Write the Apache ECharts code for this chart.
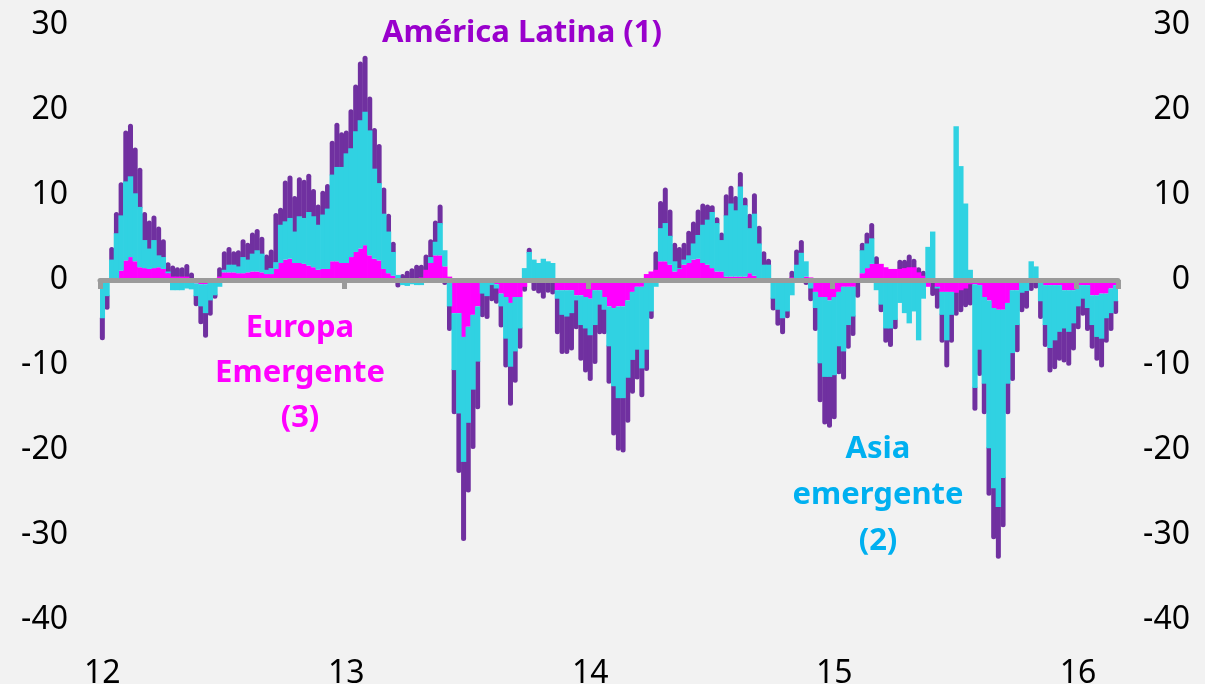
<!DOCTYPE html>
<html>
<head>
<meta charset="utf-8">
<script src="https://cdn.jsdelivr.net/npm/echarts@6/dist/echarts.min.js"></script>
<style>
    html, body {margin: 0; padding: 0; background: #F2F2F2;}
    #flows {width: 1205px; height: 684px;}
</style>
</head>
<body>
<div id="flows"></div>
<script>
// semanas desde ene-2012 hasta mar-2016
let yearLabels = ['12', '13', '14', '15', '16'];
let weeksPerYear = 52;

// Europa emergente (3)
let europa = [
    -0.2, -0.2, 0.1, 0.2, 1.1, 2.3, 2.7, 2.2, 1.5, 1.4,
    1.3, 1.4, 1.5, 1.3, 0.8, 0.4, 0.4, 0.4, 0.4, 0.1,
    -0.4, -0.5, -0.5, -0.3, -0.2, 0.4, 0.9, 0.9, 0.9, 0.8,
    0.8, 0.9, 1.0, 1.0, 0.9, 0.7, 0.7, 1.3, 2.0, 2.4,
    2.5, 2.0, 2.0, 1.9, 1.7, 1.5, 1.2, 1.3, 1.3, 2.2,
    2.2, 2.0, 2.0, 2.7, 3.3, 3.7, 4.1, 2.9, 2.5, 2.3,
    1.3, 0.8, 0.5, 0.2, 0.1, 0.1, 0.1, 0.2, 0.3, 1.2,
    2.0, 2.9, 2.9, 1.6, 0.4, -3.9, -3.9, -6.7, -5.5, -4.1,
    -3.1, -0.3, -0.3, -0.3, -0.5, -1.6, -2.0, -2.7, -2.0, -2.0,
    -0.8, 0, 0, -0.1, -0.3, -0.2, -0.2, -1.2, -1.2, -1.2,
    -1.2, -1.8, -1.8, -2.0, -2.2, -1.2, -1.2, -2.0, -3.1, -3.3,
    -3.1, -3.1, -2.4, -1.4, -0.8, -0.8, 0.7, 1.0, 1.2, 2.2,
    2.2, 1.8, 1.0, 1.3, 1.8, 2.0, 2.4, 2.5, 2.0, 1.8,
    1.4, 1.0, 1.0, 0.4, 0.4, 0.4, 0.4, 0.4, 0.8, 0.5,
    0.1, 0, 0, -0.1, -0.1, -0.1, 0, 0.3, 0.2, 0.2,
    0.4, 0.3, -1.4, -2.0, -2.0, -2.4, -2.0, -1.4, -0.8, -0.8,
    -0.8, -0.1, 0.8, 1.4, 1.9, 1.9, 1.9, 1.5, 1.3, 1.3,
    1.3, 1.4, 1.5, 1.5, 0.9, 0.5, -0.8, -0.3, -0.8, -1.4,
    -1.4, -1.4, -1.5, -1.2, -1.0, -0.5, -0.5, -0.6, -2.0, -2.4,
    -3.3, -3.5, -3.5, -2.7, -1.2, -1.2, -0.3, -0.3, -0.3, -0.2,
    -0.2, -0.6, -0.6, -0.6, -0.6, -1.2, -1.2, -1.2, -0.6, -0.6,
    -0.6, -1.8, -1.8, -1.6, -1.6, -1.0, -0.6
];

// Asia emergente (2)
let asia = [
    -4.3, -1.7, 2.3, 5.3, 6.5, 9.3, 9.5, 8.0, 7.1, 3.3,
    2.4, 3.3, 1.4, 1.4, 0.2, -1.2, -1.2, -1.2, -1.0, -1.1,
    -1.5, -2.6, -3.4, -2.1, -1.6, -0.8, 0.3, 0.9, 0.9, 0.8,
    1.9, 1.5, 2.1, 2.5, 2.2, 0.5, 0.7, 0.8, 4.5, 4.5,
    4.8, 3.7, 5.5, 5.4, 6.3, 6.0, 5.3, 6.4, 7.1, 10.2,
    11.1, 11.3, 12.9, 12.8, 14.2, 15.1, 15.7, 14.7, 10.6, 9.1,
    6.5, 4.9, 2.8, 0.4, -0.6, -0.7, -0.5, -0.6, -0.6, 0.0,
    0.7, 1.6, 3.8, 1.9, -3.1, -6.7, -11.8, -14.7, -11.3, -8.8,
    -6.5, -1.3, -1.6, -0.3, -0.5, -1.5, -4.9, -7.5, -6.4, -3.7,
    1.4, 3.3, 2.4, 2.0, 2.5, 2.2, 2.0, -1.0, -2.9, -3.1,
    -2.7, -0.6, -3.5, -3.7, -4.3, -4.1, -1.7, -1.5, -4.7, -9.2,
    -10.8, -10.8, -9.1, -8.0, -7.4, -9.6, -8.2, -3.7, -0.8, 3.9,
    4.5, 3.4, 1.2, 0.1, 0.6, 0.9, 1.9, 2.8, 4.5, 5.3,
    6.6, 5.7, 3.7, 7.2, 8.6, 7.8, 10.6, 8.4, 5.3, 7.3,
    4.2, 1.8, 1.8, -2.1, -3.4, -4.4, -3.7, -1.8, 1.6, 3.0,
    1.8, -1.0, -1.9, -7.8, -9.4, -9.0, -9.2, -6.4, -7.6, -4.5,
    -3.5, -0.2, 2.7, 2.9, 3.0, -1.2, -2.9, -5.7, -5.7, -4.7,
    -2.7, -3.9, -5.1, -3.7, -7.1, -2.2, 3.9, 5.7, -0.2, -2.7,
    -5.7, -2.7, 18.1, 13.4, 9.0, 1.2, -12.2, -7.6, -10.2, -17.4,
    -21.2, -23.2, -19.8, -9.5, -7.4, -4.1, -1.2, -1.0, 2.2, 1.6,
    -2.3, -4.7, -7.4, -6.5, -5.5, -4.5, -4.9, -3.9, -2.5, -1.6,
    -2.7, -3.5, -4.9, -5.3, -2.9, -2.9, -1.9
];

// América Latina (1)
let latam = [
    -2.3, -1.3, 1.2, 2.2, 3.6, 5.7, 5.9, 5.1, 4.3, 3.0,
    3.0, 2.6, 3.1, 1.8, 0.8, 1.0, 0.8, 0.8, 1.2, 0.5,
    -0.9, -1.8, -2.6, -1.5, -0.1, 0.8, 1.9, 1.8, 1.3, 1.6,
    1.8, 1.7, 2.2, 2.2, 1.7, 1.5, 1.9, 5.5, 1.7, 4.5,
    4.7, 3.9, 4.3, 4.2, 4.2, 2.9, 2.1, 2.5, 2.6, 3.7,
    4.9, 3.8, 2.4, 4.3, 5.2, 6.6, 6.3, 3.7, 4.5, 4.3,
    2.8, 1.8, 0.9, -0.6, 0.3, 0.7, 1.0, 1.3, 1.2, 1.5,
    1.8, 2.2, 1.9, -0.3, -2.6, -4.9, -6.7, -9.0, -7.9, -6.7,
    -5.3, -2.5, -2.4, -1.6, -1.5, -2.2, -3.1, -4.3, -3.4, -2.1,
    -0.3, 0.2, -1.0, -1.2, -1.6, -1.0, -1.2, -3.9, -4.3, -4.1,
    -4.1, -3.1, -3.9, -4.9, -5.1, -4.3, -3.2, -2.6, -4.1, -5.5,
    -5.9, -6.1, -5.0, -3.7, -3.2, -3.1, -2.2, -0.6, 1.9, 2.9,
    3.9, 2.8, 1.9, 2.2, 1.7, 2.6, 2.3, 2.7, 2.2, 1.5,
    0.5, 0.4, 0.6, 2.2, 1.8, 1.4, 1.4, 0.6, 1.4, 2.1,
    1.8, 1.3, 0.4, -1.1, -1.6, -1.6, -0.5, 0.5, 1.5, 1.2,
    -0.3, -1.2, -2.4, -4.3, -5.3, -5.7, -4.9, -3.0, -3.0, -2.5,
    -2.0, -1.5, 0.6, 1.0, 1.5, 0.6, -0.6, -1.4, -1.9, -0.8,
    0.8, 0.7, 1.2, 0.7, 0.3, 0.3, 0, -1.3, -2.1, -3.0,
    -2.9, -3.0, -2.4, -2.3, -1.9, -2.2, -2.4, -2.8, -3.3, -5.3,
    -5.7, -5.8, -5.5, -3.3, -3.0, -2.9, -2.0, -1.8, -0.7, -0.5,
    -1.8, -2.3, -2.6, -3.1, -3.1, -3.7, -3.7, -2.9, -2.4, -1.7,
    -2.4, -2.5, -2.5, -3.1, -2.6, -1.8, -1.2
];

let weeks = [];
let start = new Date(2012, 0, 6);
for (let i = 0; i < europa.length; i++) {
    let d = new Date(start.getTime() + i * 7 * 86400000);
    weeks.push(d.getFullYear() + '-' + (d.getMonth() + 1) + '-' + d.getDate());
}

// el tramo de América Latina se apila sobre los otros dos del mismo signo
let latamData = latam.map((v, i) => {
    let e = europa[i], a = asia[i];
    let base = v >= 0 ? Math.max(e, 0) + Math.max(a, 0) : Math.min(e, 0) + Math.min(a, 0);
    return [i, v, base];
});

let color = {
    europa: '#FF00FF',
    asia: '#30D2E2',
    latam: '#7030A0',
    axis: '#9B9B9B'
};

let isYearStart = (index) => index % weeksPerYear === 0;

let yLabel = {
    fontSize: 32,
    fontFamily: 'Noto Sans',
    color: '#000000'
};

let option = {
    backgroundColor: '#F2F2F2',
    animation: false,
    grid: {
        left: 100,
        right: 87,
        top: 25,
        bottom: 64,
        containLabel: false,
        outerBoundsMode: 'none'
    },
    xAxis: [
        {
            type: 'category',
            data: weeks,
            position: 'bottom',
            axisLine: {show: false, onZero: false},
            axisTick: {show: false},
            splitLine: {show: false},
            axisLabel: {
                interval: isYearStart,
                formatter: (value, index) => yearLabels[Math.floor(index / weeksPerYear)],
                margin: 38,
                fontSize: 32,
                fontFamily: 'Noto Sans',
                color: '#000000'
            }
        },
        {
            type: 'category',
            data: weeks,
            position: 'top',
            z: 10,
            axisLine: {
                onZero: true,
                lineStyle: {color: color.axis, width: 5}
            },
            axisTick: {
                show: true,
                inside: true,
                length: 9,
                interval: isYearStart,
                lineStyle: {color: color.axis, width: 5}
            },
            axisLabel: {show: false},
            splitLine: {show: false}
        }
    ],
    yAxis: [
        {
            type: 'value',
            min: -40,
            max: 30,
            interval: 10,
            axisLine: {show: false},
            axisTick: {show: false},
            splitLine: {show: false},
            axisLabel: Object.assign({margin: 32}, yLabel)
        },
        {
            type: 'value',
            position: 'right',
            min: -40,
            max: 30,
            interval: 10,
            axisLine: {show: false},
            axisTick: {show: false},
            splitLine: {show: false},
            axisLabel: Object.assign({margin: 72, align: 'right'}, yLabel)
        }
    ],
    series: [
        {
            name: 'Europa Emergente (3)',
            type: 'bar',
            stack: 'flujos',
            barWidth: 5.4,
            data: europa,
            itemStyle: {color: color.europa}
        },
        {
            name: 'Asia emergente (2)',
            type: 'bar',
            stack: 'flujos',
            barWidth: 5.4,
            data: asia,
            itemStyle: {color: color.asia}
        },
        {
            name: 'América Latina (1)',
            type: 'custom',
            data: latamData,
            encode: {x: 0, y: 1},
            renderItem: (params, api) => {
                let v = api.value(1);
                if (v === 0) {
                    return null;
                }
                let base = api.value(2);
                let p0 = api.coord([api.value(0), base]);
                let p1 = api.coord([api.value(0), base + v]);
                return {
                    type: 'line',
                    shape: {x1: p0[0], y1: p0[1], x2: p1[0], y2: p1[1]},
                    style: {stroke: color.latam, lineWidth: 5, lineCap: 'round'}
                };
            }
        }
    ],
    graphic: [
        {
            type: 'text',
            x: 522,
            y: 33,
            style: {
                text: 'América Latina (1)',
                align: 'center',
                verticalAlign: 'middle',
                font: 'bold 31px "Noto Sans"',
                fill: '#9900CC'
            }
        },
        {
            type: 'text',
            x: 300,
            y: 373,
            style: {
                text: 'Europa\nEmergente\n(3)',
                align: 'center',
                verticalAlign: 'middle',
                font: 'bold 31px "Noto Sans"',
                lineHeight: 45,
                fill: '#FF00FF'
            }
        },
        {
            type: 'text',
            x: 878,
            y: 495,
            style: {
                text: 'Asia\nemergente\n(2)',
                align: 'center',
                verticalAlign: 'middle',
                font: 'bold 31px "Noto Sans"',
                lineHeight: 46,
                fill: '#00B0F0'
            }
        }
    ]
};

let flowsChart = echarts.init(document.getElementById('flows'));
flowsChart.setOption(option);
</script>
</body>
</html>
